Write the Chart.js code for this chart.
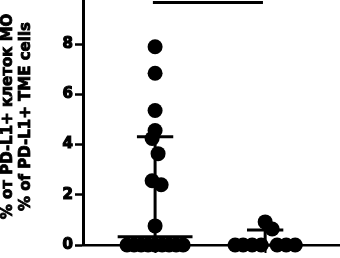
<!DOCTYPE html>
<html>
<head>
<meta charset="utf-8">
<script src="https://cdn.jsdelivr.net/npm/chart.js@4"></script>
<style>
  html, body { margin: 0; padding: 0; background: #fff; }
  #wrap { width: 340px; height: 258px; }
</style>
</head>
<body>
<div id="wrap"><canvas id="chart"></canvas></div>
<script>
// group positions on the x scale (no labels shown in the picture)
const groupX = [1, 2];

// group 1: individual values and horizontal jitter (x units)
const group1Values = [0, 0, 0, 0, 0, 0, 0, 0, 0, 0.76, 2.4, 2.56, 3.64, 4.24, 4.56, 5.36, 6.84, 7.9];
const group1Jitter = [-0.255, -0.191, -0.127, -0.064, 0, 0.064, 0.127, 0.191, 0.255, 0, 0.055, -0.027, 0.027, -0.027, 0, 0, 0, 0];

// group 2
const group2Values = [0, 0, 0, 0, 0, 0, 0, 0.64, 0.92];
const group2Jitter = [-0.273, -0.2, -0.118, -0.036, 0.109, 0.191, 0.273, 0.064, 0];

// median and upper quartile per group
const medians = [0.33, 0];
const upperQuartiles = [4.31, 0.6];

// significance bar height
const sigBar = 9.66;

const yTicks = [0, 2, 4, 6, 8];
const yTitle = ["% от PD-L1+ клеток МО", "% of PD-L1+ TME cells"];

function toPoints(vals, jit, cx) {
  return vals.map((v, i) => ({ x: cx + jit[i], y: v }));
}

function segment(x1, x2, y) {
  return [{ x: x1, y: y }, { x: x2, y: y }];
}

const lineStyle = {
  showLine: true,
  pointRadius: 0,
  borderColor: "#000",
  borderWidth: 3,
  clip: false
};

const datasets = [
  {
    data: toPoints(group1Values, group1Jitter, groupX[0]).concat(toPoints(group2Values, group2Jitter, groupX[1])),
    backgroundColor: "#000",
    borderWidth: 0,
    pointRadius: 7.5,
    clip: false
  },
  Object.assign({ data: segment(groupX[0] - 0.34, groupX[0] + 0.34, medians[0]) }, lineStyle),
  Object.assign({ data: segment(groupX[1] - 0.34, groupX[1] + 0.34, medians[1]) }, lineStyle),
  Object.assign({ data: segment(groupX[0] - 0.165, groupX[0] + 0.165, upperQuartiles[0]) }, lineStyle),
  Object.assign({ data: segment(groupX[1] - 0.165, groupX[1] + 0.165, upperQuartiles[1]) }, lineStyle),
  Object.assign({ data: [{ x: groupX[0], y: medians[0] }, { x: groupX[0], y: upperQuartiles[0] }] }, lineStyle),
  Object.assign({ data: [{ x: groupX[1], y: medians[1] }, { x: groupX[1], y: upperQuartiles[1] }] }, lineStyle),
  Object.assign({ data: segment(groupX[0] - 0.02, groupX[1] - 0.02, sigBar) }, lineStyle)
];

// rotated two-line y title, drawn a bit heavier than plain bold
const yTitlePlugin = {
  id: "yTitle",
  afterDraw(chart) {
    const ctx = chart.ctx;
    const cy = (chart.chartArea.top + chart.chartArea.bottom) / 2 - 6;
    ctx.save();
    ctx.font = 'bold 15px "DejaVu Sans"';
    ctx.fillStyle = "#000";
    ctx.strokeStyle = "#000";
    ctx.lineWidth = 0.8;
    ctx.textAlign = "center";
    ctx.textBaseline = "middle";
    yTitle.forEach((t, i) => {
      ctx.save();
      ctx.translate(8 + i * 18.6, cy);
      ctx.rotate(-Math.PI / 2);
      ctx.fillText(t, 0, 0);
      ctx.strokeText(t, 0, 0);
      ctx.restore();
    });
    ctx.restore();
  }
};

new Chart(document.getElementById("chart"), {
  type: "scatter",
  data: { datasets: datasets },
  plugins: [yTitlePlugin],
  options: {
    responsive: true,
    maintainAspectRatio: false,
    animation: false,
    layout: { padding: 0, autoPadding: false },
    plugins: { legend: { display: false }, tooltip: { enabled: false } },
    scales: {
      x: {
        type: "linear",
        min: 0.345,
        max: 2.68,
        afterBuildTicks: s => { s.ticks = groupX.map(v => ({ value: v })); },
        afterFit: s => { s.height = 13; s.paddingLeft = 0; s.paddingRight = 0; },
        ticks: { callback: () => "" },
        grid: { drawOnChartArea: false, drawTicks: true, tickLength: 8, tickWidth: 2, tickColor: "#000" },
        border: { display: true, color: "#000", width: 2.5 }
      },
      y: {
        min: 0,
        max: 9.76,
        afterBuildTicks: s => { s.ticks = yTicks.map(v => ({ value: v })); },
        afterFit: s => { s.width = 83; s.paddingTop = 0; s.paddingBottom = 0; },
        ticks: {
          color: "#000",
          padding: 2,
          font: { family: "DejaVu Sans", size: 15, weight: "bold" },
          textStrokeColor: "#000",
          textStrokeWidth: 1.2
        },
        grid: { drawOnChartArea: false, drawTicks: true, tickLength: 8, tickWidth: 2.5, tickColor: "#000" },
        border: { display: true, color: "#000", width: 3 }
      }
    }
  }
});
</script>
</body>
</html>
